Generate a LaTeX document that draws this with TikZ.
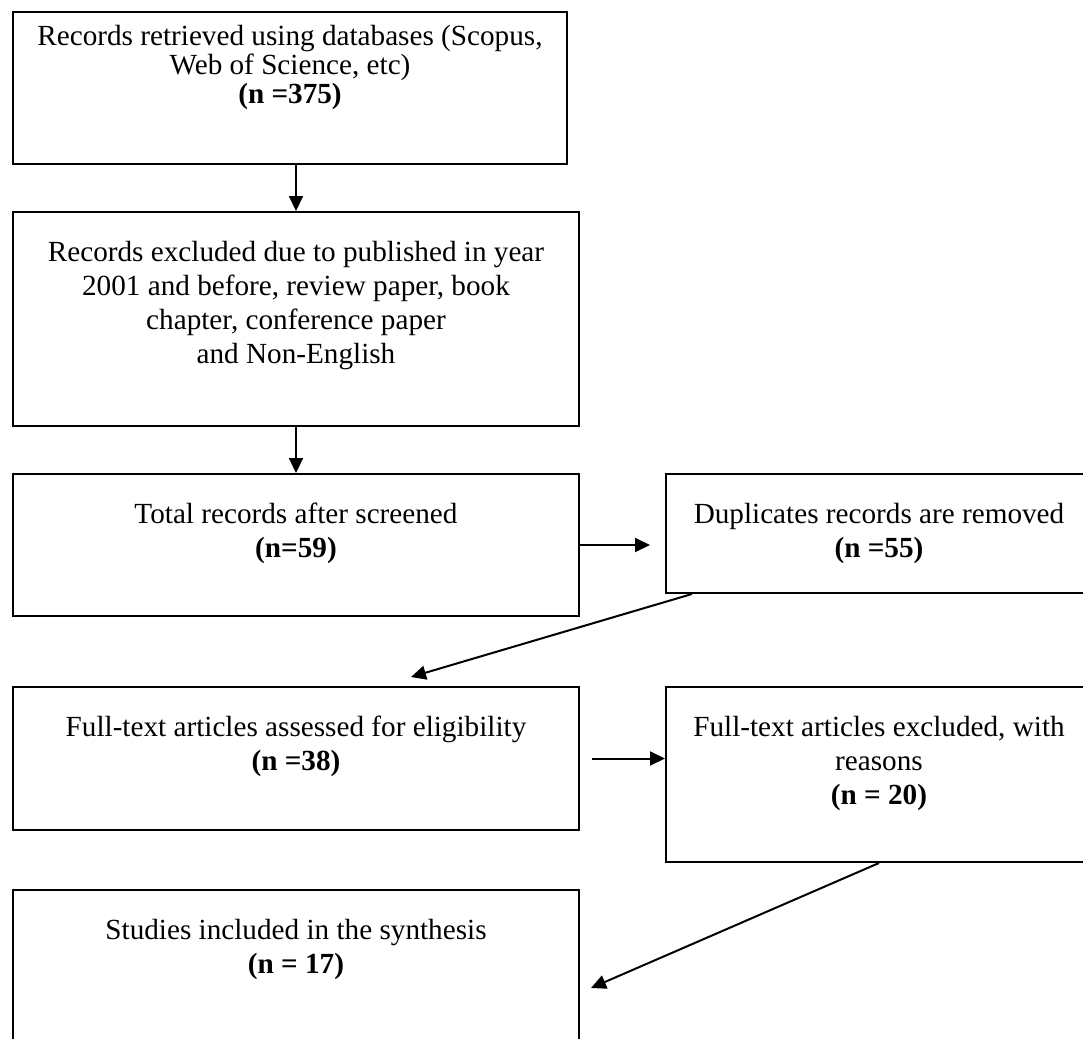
\documentclass[tikz,border=0pt]{standalone}
\usepackage{fontspec}
\setmainfont{Liberation Serif}
\usetikzlibrary{arrows.meta,calc}

\tikzset{
  flowbox/.style={draw,line width=1pt,anchor=north west,inner sep=0pt,
    font=\fontsize{14.6}{17}\selectfont},
  flowarrow/.style={-{Triangle[length=7.5pt,width=7pt]},line width=1pt}
}
% box contents: [top gap], height, width, text
\newcommand{\boxtext}[4][14.5pt]{\parbox[t][#2][t]{#3}{\centering\vspace*{#1}#4}}

\begin{document}
\begin{tikzpicture}[x=0.5pt,y=-0.5pt]
\useasboundingbox (0,0) rectangle (1083,1039);
% left column
\node[flowbox,font=\fontsize{14.6}{14.5}\selectfont] (retrieved) at (12,11) {\boxtext[6.5pt]{76pt}{277pt}{Records retrieved using databases (Scopus,\\ Web of Science, etc)\\ \textbf{(n =375)}}};
\node[flowbox] (excluded) at (12,211) {\boxtext{107pt}{283pt}{Records excluded due to published in year\\ 2001 and before, review paper, book\\ chapter, conference paper\\ and Non-English}};
\node[flowbox] (screened) at (12,473) {\boxtext{71pt}{283pt}{Total records after screened\\ \textbf{(n=59)}}};
\node[flowbox] (assessed) at (12,686) {\boxtext{71.5pt}{283pt}{Full-text articles assessed for eligibility\\ \textbf{(n =38)}}};
\node[flowbox] (synthesis) at (12,889) {\boxtext{80pt}{283pt}{Studies included in the synthesis\\ \textbf{(n = 17)}}};
% right column
\node[flowbox] (duplicates) at (665,473) {\boxtext{59.5pt}{213pt}{Duplicates records are removed\\ \textbf{(n =55)}}};
\node[flowbox] (reasons) at (665,686) {\boxtext{87.5pt}{213pt}{Full-text articles excluded, with\\ reasons\\ \textbf{(n = 20)}}};
% arrows
\draw[flowarrow] (excluded.north |- retrieved.south) -- (excluded.north);
\draw[flowarrow] (excluded.south) -- (screened.north);
\draw[flowarrow] (screened.east) -- ($(duplicates.west |- screened.east)+(-15,0)$);
\draw[flowarrow] ($(duplicates.south west)+(27,0)$) -- ($(assessed.north west)+(399,-9)$);
\draw[flowarrow] ($(assessed.east)+(12,0)$) -- (reasons.west |- assessed.east);
\draw[flowarrow] (reasons.south) -- ($(synthesis.north east)+(11,99)$);
\end{tikzpicture}
\end{document}
